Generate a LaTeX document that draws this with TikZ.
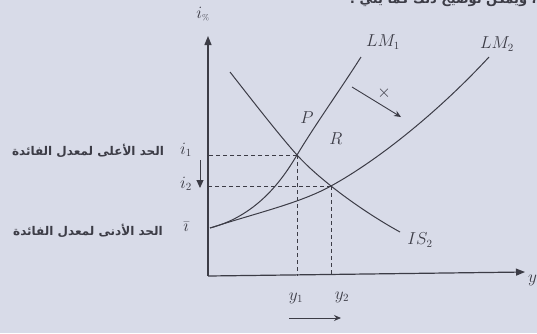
\documentclass[tikz,border=0pt]{standalone}
\usepackage{fontspec}
\newfontfamily\arabicfont[Script=Arabic]{DejaVu Sans}
\TeXXeTstate=1
\usetikzlibrary{arrows.meta}
\definecolor{bg}{RGB}{216,219,232}
\definecolor{ink}{RGB}{60,60,70}
\begin{document}
\begin{tikzpicture}[x=1pt,y=-1pt,
  curve/.style={draw=ink,line width=1pt},
  axis/.style={draw=ink,line width=1.2pt,-{Triangle[length=9pt,width=7pt]}},
  guide/.style={draw=ink,line width=0.8pt,dash pattern=on 4pt off 3pt},
  lbl/.style={text=ink,font=\fontsize{16}{16}\selectfont,inner sep=0pt},
  arlbl/.style={text=ink,font=\arabicfont\bfseries\fontsize{12}{12}\selectfont,inner sep=0pt},
  shiftarrow/.style={draw=ink,line width=0.9pt,-{Stealth[length=7pt,width=6pt]}}]
\fill[bg] (0,0) rectangle (537,333);
\useasboundingbox (0,0) rectangle (537,333);
% cropped heading text
\begin{scope}
\clip (0,0) rectangle (537,333);
\node[arlbl,anchor=north east,font=\arabicfont\bfseries\fontsize{13}{13}\selectfont] (head) at (548,-7) {\beginR د ، ويمكن توضيح ذلك كما يلي :\endR};
\end{scope}
% coordinates
\coordinate (O) at (208,276);
\coordinate (ytop) at (208,36);
\coordinate (xend) at (525,272);
\coordinate (P) at (297,155);
\coordinate (R) at (331,186);
\coordinate (ib) at (210,228);
\coordinate (P1) at (208,155);
\coordinate (R1) at (208,186);
\coordinate (Px) at (297,276);
\coordinate (Rx) at (331,275);
% axes
\draw[axis] (O) -- (ytop);
\draw[axis] (O) -- (xend);
\node[lbl] (iax) at (203,14) {$i_{\scriptscriptstyle\%}$};
\node[lbl,anchor=west] (yax) at (528,280) {$y$};
% guides
\draw[guide] (P) -- (P1);
\draw[guide] (P) -- (Px);
\draw[guide] (R) -- (R1);
\draw[guide] (R) -- (Rx);
% curves
\draw[curve] (ib) .. controls (260,215) and (285,175) .. (P) .. controls (315,125) and (340,90) .. (361,57);
\draw[curve] (ib) .. controls (260,212) and (300,203) .. (R) .. controls (380,159) and (440,110) .. (489,57);
\draw[curve] (230,72) .. controls (255,104) and (280,136) .. (P) .. controls (310,169) and (320,177) .. (R) .. controls (355,205) and (380,221) .. (400,232);
% curve labels
\node[lbl] (lm1) at (383,42) {$LM_1$};
\node[lbl] (lm2) at (497,44) {$LM_2$};
\node[lbl] (is2) at (420,240) {$IS_2$};
\node[lbl] (pl) at (307,118) {$P$};
\node[lbl] (rl) at (336,139) {$R$};
% shift arrow
\coordinate (sa) at (352,87);
\coordinate (sb) at (401,117);
\draw[shiftarrow] (sa) -- (sb);
\node[text=ink,font=\fontsize{17}{17}\selectfont,inner sep=0pt] (cross) at (384,93) {$\times$};
% vertical axis labels
\node[lbl] (i1) at (186,150) {$i_1$};
\node[lbl] (i2) at (186,184) {$i_2$};
\node[lbl] (ibar) at (186,227) {$\bar{\imath}$};
\coordinate (da) at (200,160);
\coordinate (db) at (200,188);
\draw[draw=ink,line width=1pt,-{Triangle[length=8pt,width=7pt]}] (da) -- (db);
\node[arlbl] (upper) at (88,151) {\beginR الحد الأعلى لمعدل الفائدة\endR};
\node[arlbl] (lower) at (88,231) {\beginR الحد الأدنى لمعدل الفائدة\endR};
% horizontal labels
\node[lbl] (y1) at (296,298) {$y_1$};
\node[lbl] (y2) at (342,297) {$y_2$};
\coordinate (ha) at (289,318);
\coordinate (hb) at (341,318);
\draw[shiftarrow] (ha) -- (hb);
\end{tikzpicture}
\end{document}
